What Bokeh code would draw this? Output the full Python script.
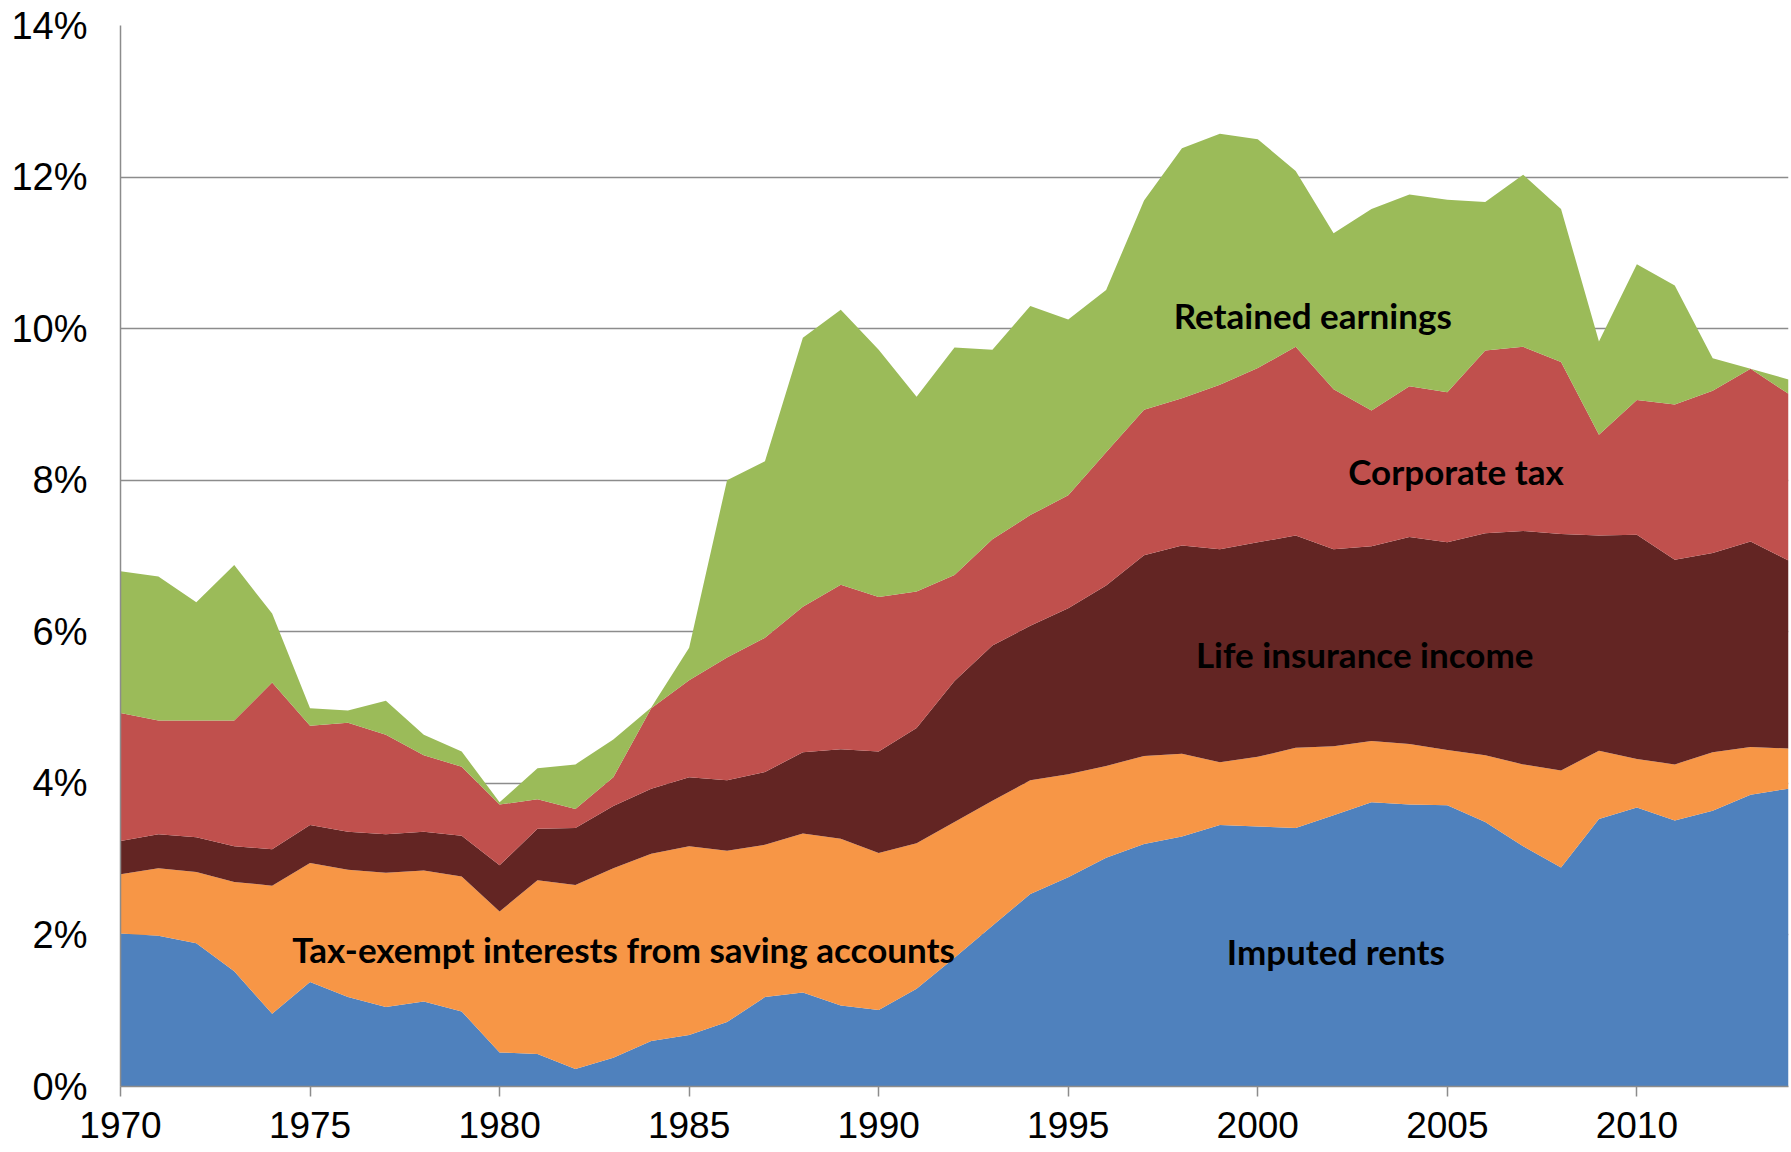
from bokeh.plotting import figure
from bokeh.models import ColumnDataSource, Range1d, FixedTicker, PrintfTickFormatter, Label
from bokeh.embed import file_html
from bokeh.resources import INLINE

years = list(range(1970, 2015))

# Components (% of national income)
imputed_rents = [2.02, 1.99, 1.89, 1.52, 0.96, 1.38, 1.18, 1.05, 1.12, 0.99,
                 0.45, 0.43, 0.23, 0.38, 0.60, 0.68, 0.85, 1.18, 1.24, 1.07,
                 1.01, 1.29, 1.70, 2.12, 2.54, 2.76, 3.02, 3.20, 3.30, 3.45,
                 3.43, 3.41, 3.58, 3.75, 3.72, 3.71, 3.49, 3.17, 2.89, 3.53,
                 3.68, 3.51, 3.64, 3.85, 3.93]
tax_exempt_interests = [0.78, 0.89, 0.94, 1.18, 1.69, 1.57, 1.68, 1.77, 1.73, 1.78,
                        1.86, 2.29, 2.43, 2.50, 2.47, 2.49, 2.26, 2.01, 2.10, 2.20,
                        2.07, 1.92, 1.79, 1.65, 1.50, 1.36, 1.21, 1.16, 1.09, 0.83,
                        0.92, 1.06, 0.91, 0.81, 0.80, 0.73, 0.88, 1.08, 1.28, 0.90,
                        0.64, 0.74, 0.77, 0.63, 0.53]
life_insurance_income = [0.44, 0.45, 0.46, 0.47, 0.48, 0.50, 0.50, 0.51, 0.51, 0.54,
                         0.61, 0.68, 0.75, 0.82, 0.86, 0.91, 0.93, 0.96, 1.07, 1.18,
                         1.34, 1.52, 1.86, 2.05, 2.04, 2.19, 2.38, 2.65, 2.75, 2.81,
                         2.83, 2.80, 2.60, 2.57, 2.73, 2.74, 2.93, 3.08, 3.12, 2.84,
                         2.96, 2.70, 2.63, 2.71, 2.48]
corporate_tax = [1.69, 1.50, 1.54, 1.66, 2.20, 1.31, 1.44, 1.31, 1.01, 0.91,
                 0.80, 0.39, 0.25, 0.38, 1.06, 1.28, 1.62, 1.77, 1.92, 2.17,
                 2.04, 1.80, 1.40, 1.40, 1.46, 1.49, 1.76, 1.92, 1.94, 2.17,
                 2.30, 2.49, 2.11, 1.79, 1.99, 1.98, 2.41, 2.43, 2.27, 1.33,
                 1.78, 2.05, 2.14, 2.28, 2.20]
retained_earnings = [1.87, 1.90, 1.56, 2.05, 0.91, 0.23, 0.16, 0.45, 0.27, 0.20,
                     0.03, 0.41, 0.59, 0.50, 0.01, 0.43, 2.34, 2.33, 3.55, 3.63,
                     3.26, 2.57, 3.00, 2.50, 2.76, 2.32, 2.14, 2.76, 3.30, 3.31,
                     3.02, 2.32, 2.06, 2.66, 2.53, 2.54, 1.96, 2.27, 2.02, 1.23,
                     1.79, 1.57, 0.43, 0.00, 0.19]

series_names = ["Imputed rents", "Tax-exempt interests from saving accounts",
                "Life insurance income", "Corporate tax", "Retained earnings"]
y_ticks = [0, 2, 4, 6, 8, 10, 12, 14]
x_ticks = [1970, 1975, 1980, 1985, 1990, 1995, 2000, 2005, 2010]

colors = ["#4F81BD", "#F79646", "#632523", "#C0504D", "#9BBB59"]

src = ColumnDataSource(dict(
    year=years,
    rents=imputed_rents,
    taxex=tax_exempt_interests,
    life=life_insurance_income,
    corp=corporate_tax,
    ret=retained_earnings,
))

p = figure(width=1790, height=1152, output_backend="svg", toolbar_location=None,
           x_range=Range1d(1970, 2014), y_range=Range1d(0, 14),
           min_border_left=120, min_border_right=2, min_border_top=25,
           min_border_bottom=66)
p.outline_line_color = None
p.background_fill_color = "white"

p.varea_stack(stackers=["rents", "taxex", "life", "corp", "ret"], x="year",
              color=colors, source=src)

# grid
p.xgrid.grid_line_color = None
p.ygrid.grid_line_color = "#8C8C8C"
p.ygrid.grid_line_width = 1.5
p.ygrid.ticker = FixedTicker(ticks=y_ticks)

# y axis
p.yaxis.ticker = FixedTicker(ticks=y_ticks)
p.yaxis.formatter = PrintfTickFormatter(format="%d%%")
p.yaxis.axis_line_color = "#8C8C8C"
p.yaxis.axis_line_width = 1.5
p.yaxis.major_tick_line_color = None
p.yaxis.minor_tick_line_color = None
p.yaxis.major_tick_out = 0
p.yaxis.major_label_standoff = 33
p.yaxis.major_label_text_font = "Liberation Sans"
p.yaxis.major_label_text_font_size = "38px"
p.yaxis.major_label_text_color = "black"

# x axis
p.xaxis.ticker = FixedTicker(ticks=x_ticks)
p.xaxis.axis_line_color = "#8C8C8C"
p.xaxis.axis_line_width = 1.5
p.xaxis.major_tick_line_color = "#8C8C8C"
p.xaxis.major_tick_line_width = 1.5
p.xaxis.major_tick_out = 10
p.xaxis.major_tick_in = 0
p.xaxis.minor_tick_line_color = None
p.xaxis.major_label_standoff = 15
p.xaxis.major_label_text_font = "Liberation Sans"
p.xaxis.major_label_text_font_size = "37px"
p.xaxis.major_label_text_color = "black"

label_pos = [(2002.06, 1.79), (1983.27, 1.82), (2002.82, 5.71), (2005.23, 8.12), (2001.45, 10.18)]
for name, (lx, ly) in zip(series_names, label_pos):
    p.add_layout(Label(x=lx, y=ly, text=name, text_align="center", text_baseline="middle",
                       text_font="Lato", text_font_style="bold", text_font_size="35px",
                       text_color="black"))

open("out.html", "w").write(file_html(p, INLINE))
